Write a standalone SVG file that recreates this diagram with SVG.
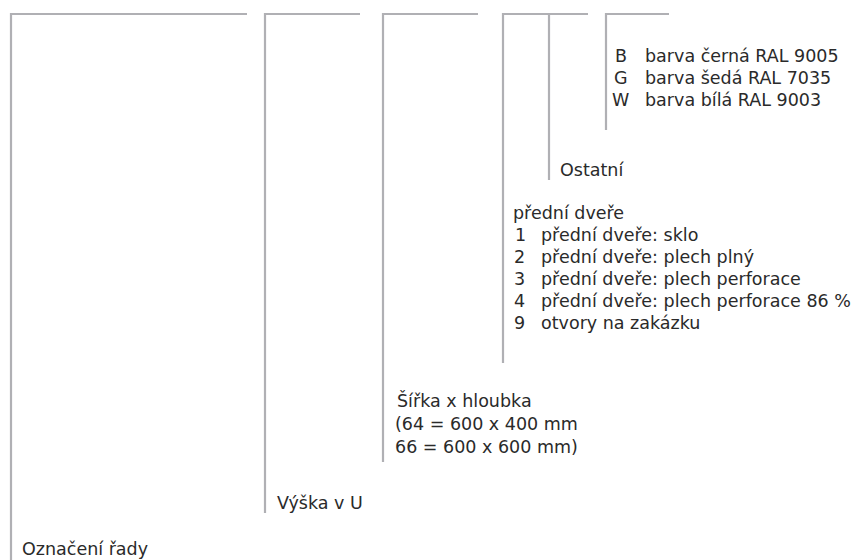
<svg xmlns="http://www.w3.org/2000/svg" width="858" height="560" viewBox="0 0 858 560">
<style>
.ln{fill:none;stroke:#b0b0b4;stroke-width:2.2}
text{font-family:"DejaVu Sans","Liberation Sans",sans-serif;font-size:17.5px;fill:#2a2a2a}
</style>
<rect width="858" height="560" fill="#fff"/>
<g id="connectors">
<path class="ln" d="M11,560 V14 H247"/>
<path class="ln" d="M265,513 V14 H360"/>
<path class="ln" d="M383,462 V14 H478"/>
<path class="ln" d="M503,363 V14 H588"/>
<path class="ln" d="M549,180 V14"/>
<path class="ln" d="M606,130 V14 H669"/>
</g>
<g id="color">
<text x="615" y="62">B</text><text x="645" y="62">barva černá RAL 9005</text>
<text x="614" y="84">G</text><text x="645" y="84">barva šedá RAL 7035</text>
<text x="612" y="106">W</text><text x="645" y="106">barva bílá RAL 9003</text>
</g>
<g id="ostatni"><text x="560" y="176">Ostatní</text></g>
<g id="dvere">
<text x="513" y="219">přední dveře</text>
<text x="515" y="241">1</text><text x="541" y="241">přední dveře: sklo</text>
<text x="514" y="263">2</text><text x="541" y="263">přední dveře: plech plný</text>
<text x="514" y="285">3</text><text x="541" y="285">přední dveře: plech perforace</text>
<text x="514" y="307">4</text><text x="541" y="307">přední dveře: plech perforace 86 %</text>
<text x="514" y="329">9</text><text x="541" y="329">otvory na zakázku</text>
</g>
<g id="sirka">
<text x="397" y="407">Šířka x hloubka</text>
<text x="395" y="430">(64 = 600 x 400 mm</text>
<text x="395" y="453">66 = 600 x 600 mm)</text>
</g>
<g id="vyska"><text x="277" y="509">Výška v U</text></g>
<g id="rada"><text x="22" y="555">Označení řady</text></g>
</svg>
